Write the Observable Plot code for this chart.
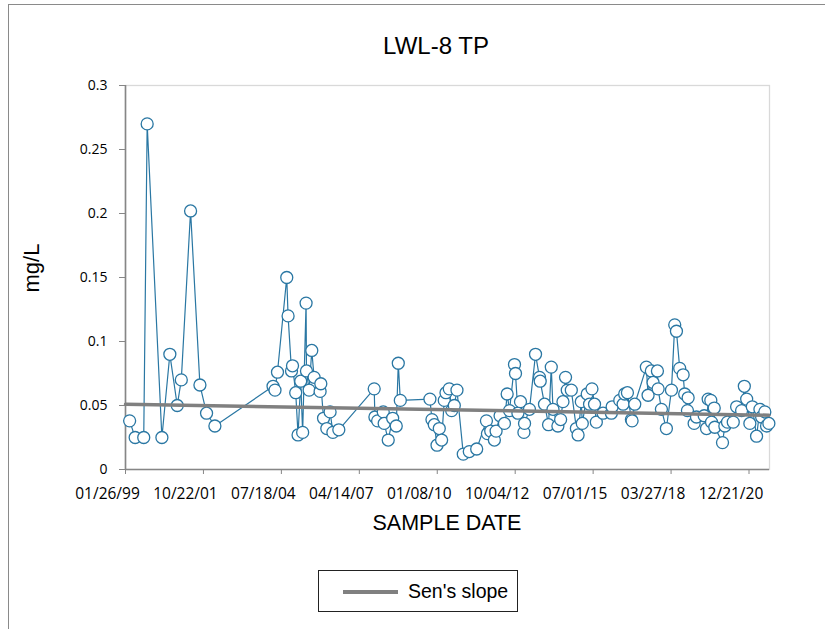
<!DOCTYPE html>
<html>
<head>
<meta charset="utf-8">
<script src="https://cdn.jsdelivr.net/npm/d3@7"></script>
<script src="https://cdn.jsdelivr.net/npm/@observablehq/plot@0.6"></script>
<style>
  html, body { margin: 0; padding: 0; background: #fff; }
  #wrap { position: relative; width: 825px; height: 629px; overflow: hidden; font-family: "Liberation Sans", Arial, sans-serif; }
  #border { position: absolute; left: 8px; top: 4px; width: 840px; height: 660px; border: 1.5px solid #8a8a8a; box-sizing: border-box; }
  #plot { position: absolute; left: 0; top: 0; }
  .lbl { position: absolute; color: #000; white-space: nowrap; }
  #title { left: 0; width: 872px; top: 32px; text-align: center; font-size: 24px; }
  #xlabel { left: 0; width: 894px; top: 511px; text-align: center; font-size: 21.5px; }
  #ylabel { left: 32px; top: 268px; font-size: 22px; transform: translate(-50%, -50%) rotate(-90deg); }
  #legend { position: absolute; left: 318px; top: 570px; width: 200px; height: 42px; border: 1px solid #222; box-sizing: border-box; background: #fff; }
  #legend .sw { position: absolute; left: 24px; top: 19px; width: 55px; height: 3.5px; background: #808080; }
  #legend .tx { position: absolute; left: 89px; top: 9px; font-size: 19.5px; }
</style>
</head>
<body>
<div id="wrap">
  <div id="border"></div>
  <div id="plot"></div>
  <div class="lbl" id="title">LWL-8 TP</div>
  <div class="lbl" id="xlabel">SAMPLE DATE</div>
  <div class="lbl" id="ylabel">mg/L</div>
  <div id="legend"><div class="sw"></div><div class="lbl tx">Sen's slope</div></div>
</div>
<script>
// Sample dates and TP concentrations (mg/L)
const sampleDates = [
  "1999-03-20","1999-05-30","1999-09-17","1999-10-31","2000-05-07","2000-08-17","2000-11-20","2001-01-11",
  "2001-05-10","2001-09-07","2001-12-01","2002-03-18",
  "2004-04-02","2004-04-27","2004-05-29","2004-09-25","2004-10-12","2004-11-25","2004-12-08","2005-01-18",
  "2005-02-17","2005-03-23","2005-04-17","2005-05-31","2005-06-05","2005-07-09","2005-08-12","2005-09-11",
  "2005-11-27","2005-12-06","2006-01-10","2006-02-21","2006-04-04","2006-05-10","2006-07-25",
  "2007-10-22","2007-10-31","2007-12-05","2008-02-15","2008-02-27","2008-04-19","2008-06-15","2008-07-31",
  "2008-08-26","2008-09-21",
  "2009-10-06","2009-11-01","2009-12-01","2010-01-05","2010-02-03","2010-03-05","2010-04-08","2010-04-30",
  "2010-06-11","2010-07-12","2010-08-15","2010-09-18","2010-12-08","2011-02-23","2011-05-29",
  "2011-10-01","2011-10-14","2011-11-25","2012-01-11","2012-02-02","2012-03-24","2012-05-19","2012-06-23",
  "2012-07-23","2012-09-25","2012-10-08","2012-11-08","2012-12-11","2013-01-24","2013-02-01","2013-04-05",
  "2013-06-22","2013-08-12","2013-08-21","2013-10-15","2013-12-06","2014-01-10","2014-02-01","2014-04-05",
  "2014-05-10","2014-06-09","2014-07-12","2014-08-03","2014-09-24","2014-11-28","2014-12-20","2015-01-30",
  "2015-02-12","2015-04-16","2015-05-16","2015-06-16","2015-07-19","2015-08-11","2015-11-05","2016-02-20",
  "2016-03-01","2016-06-07","2016-07-20","2016-08-09","2016-09-13","2016-11-03","2016-11-12","2016-12-16",
  "2017-05-14","2017-06-05","2017-07-17","2017-08-08","2017-10-03","2017-10-12","2017-11-23","2018-01-26",
  "2018-04-01","2018-05-13","2018-06-04","2018-07-16","2018-08-29","2018-09-18","2018-10-23","2018-11-01",
  "2019-01-17","2019-02-16","2019-05-26","2019-06-25","2019-07-16","2019-08-19","2019-08-28","2019-10-02",
  "2019-10-09","2020-01-16","2020-02-15","2020-03-20","2020-06-02","2020-07-15","2020-09-17","2020-10-22",
  "2020-11-21","2021-01-01","2021-02-01","2021-03-28","2021-05-10","2021-06-01","2021-07-12","2021-08-03",
  "2021-09-02"
];
const tpValues = [
  0.038,0.025,0.025,0.270,0.025,0.090,0.050,0.070,
  0.202,0.066,0.044,0.034,
  0.065,0.062,0.076,0.150,0.120,0.077,0.081,0.060,
  0.027,0.069,0.029,0.130,0.077,0.062,0.093,0.072,
  0.061,0.067,0.040,0.032,0.045,0.029,0.031,
  0.063,0.041,0.038,0.045,0.036,0.023,0.040,0.034,
  0.083,0.054,
  0.055,0.039,0.035,0.019,0.032,0.023,0.054,0.060,
  0.063,0.046,0.050,0.062,0.012,0.014,0.016,
  0.038,0.028,0.030,0.023,0.030,0.042,0.036,0.059,
  0.046,0.082,0.075,0.044,0.053,0.029,0.036,0.047,
  0.090,0.072,0.069,0.051,0.035,0.080,0.047,0.034,
  0.039,0.053,0.072,0.062,0.062,0.032,0.027,0.053,
  0.036,0.059,0.051,0.063,0.051,0.037,0.044,0.044,
  0.049,0.054,0.051,0.059,0.060,0.039,0.038,0.051,
  0.080,0.058,0.077,0.068,0.077,0.063,0.047,0.032,
  0.062,0.113,0.108,0.079,0.074,0.059,0.046,0.056,
  0.036,0.041,0.042,0.032,0.055,0.054,0.037,0.048,
  0.033,0.021,0.034,0.037,0.037,0.049,0.046,0.065,
  0.055,0.036,0.049,0.026,0.047,0.041,0.045,0.034,
  0.036
];
// Sen's slope trend line end points
const senDates = ["1999-01-26", "2021-09-02"];
const senValues = [0.0510, 0.0424];
// Axis ticks
const xTickDates = ["1999-01-26","2001-10-22","2004-07-18","2007-04-14","2010-01-08","2012-10-04","2015-07-01","2018-03-27","2020-12-21"];
const yTicks = [0, 0.05, 0.1, 0.15, 0.2, 0.25, 0.3];
const xDomain = ["1999-01-26", "2021-09-10"];

const data = sampleDates.map((d, i) => ({date: new Date(d + "T00:00:00Z"), value: tpValues[i]}));
const sen = senDates.map((d, i) => ({date: new Date(d + "T00:00:00Z"), value: senValues[i]}));
const xTicks = xTickDates.map(d => new Date(d + "T00:00:00Z"));
const blue = "#2a77a3";
const axisGray = "#868686";

const chart = Plot.plot({
  width: 825,
  height: 629,
  marginLeft: 125,
  marginRight: 56,
  marginTop: 85,
  marginBottom: 160,
  style: {fontFamily: "'Open Sans', sans-serif", fontSize: "14px", color: "#000", background: "transparent", overflow: "visible"},
  x: {type: "utc", domain: xDomain.map(d => new Date(d + "T00:00:00Z"))},
  y: {domain: [0, 0.3]},
  marks: [
    Plot.frame({stroke: "#d9d9d9", strokeWidth: 1.3}),
    Plot.ruleY([0], {stroke: axisGray, strokeWidth: 1.6}),
    Plot.ruleX([xTicks[0]], {stroke: axisGray, strokeWidth: 1.6}),
    Plot.axisX({ticks: xTicks, tickFormat: d3.utcFormat("%m/%d/%y"), tickSize: 5, tickPadding: 13, stroke: axisGray, fill: "#000", label: null, fontSize: 15.5}),
    Plot.axisY({ticks: yTicks, tickFormat: d => String(d), tickSize: 6, tickPadding: 12, stroke: axisGray, fill: "#000", label: null, fontSize: 14}),
    Plot.line(data, {x: "date", y: "value", stroke: blue, strokeWidth: 1.2}),
    Plot.dot(data, {x: "date", y: "value", r: 6, fill: "white", stroke: blue, strokeWidth: 1.3}),
    Plot.line(sen, {x: "date", y: "value", stroke: "#808080", strokeWidth: 3.5})
  ]
});
// shift x tick labels to match reference placement
chart.querySelectorAll("g[aria-label='x-axis tick label'] text").forEach(t => t.setAttribute("dx", "-18"));
document.getElementById("plot").appendChild(chart);
</script>
</body>
</html>
